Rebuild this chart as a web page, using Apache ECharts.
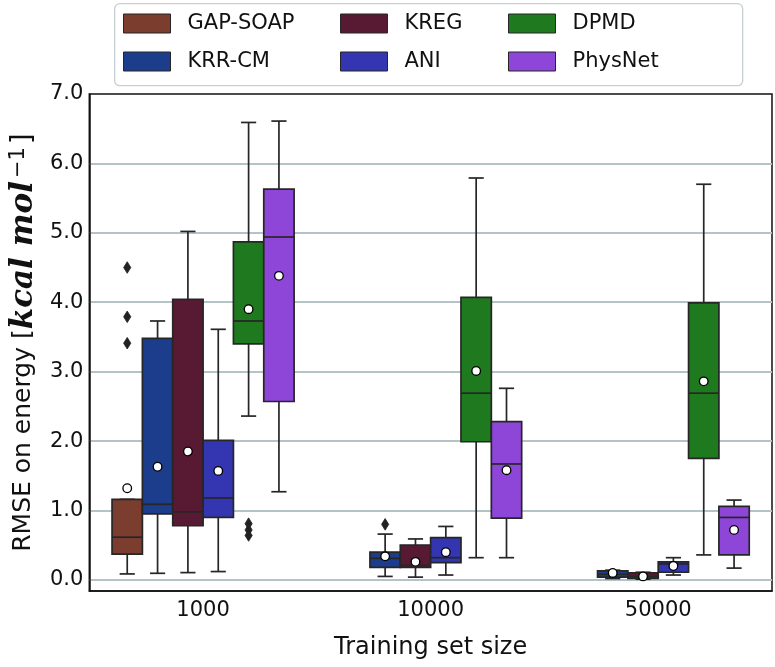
<!DOCTYPE html>
<html><head><meta charset="utf-8">
<script src="https://cdn.jsdelivr.net/npm/echarts@6/dist/echarts.min.js"></script>
<style>html,body{margin:0;padding:0;background:#fff}#chart{width:775px;height:667px}</style>
</head><body><div id="chart"></div>
<script>
// ---------------- data ----------------
const categories = ['1000', '10000', '50000'];
const models = ['GAP-SOAP', 'KRR-CM', 'KREG', 'ANI', 'DPMD', 'PhysNet'];
const colors = ['#7b3d2e', '#1c3c8c', '#581a32', '#3336b0', '#1f7a1f', '#8e46d8'];
const yTickValues = [0, 1, 2, 3, 4, 5, 6, 7];
const yGridValues = [0, 1, 2, 3, 4, 5, 6];

// [low whisker, Q1, median, Q3, high whisker] per training-set size (null = not available)
const gapSoapBox = [[0.086, 0.37, 0.615, 1.16, 1.16], null, null];
const krrCmBox   = [[0.095, 0.95, 1.09, 3.48, 3.73], [0.05, 0.18, 0.31, 0.40, 0.66], [0.02, 0.04, 0.08, 0.13, 0.14]];
const kregBox    = [[0.105, 0.78, 0.98, 4.04, 5.02], [0.04, 0.18, 0.21, 0.50, 0.59], [0.01, 0.02, 0.05, 0.10, 0.11]];
const aniBox     = [[0.12, 0.90, 1.18, 2.01, 3.61], [0.07, 0.25, 0.32, 0.61, 0.77], [0.07, 0.11, 0.23, 0.26, 0.32]];
const dpmdBox    = [[2.36, 3.40, 3.73, 4.87, 6.59], [0.32, 1.99, 2.69, 4.07, 5.79], [0.36, 1.75, 2.69, 3.99, 5.70]];
const physNetBox = [[1.27, 2.57, 4.94, 5.63, 6.61], [0.32, 0.89, 1.67, 2.28, 2.76], [0.17, 0.36, 0.90, 1.06, 1.15]];

// means (white circles)
const gapSoapMean = [1.32, null, null];
const krrCmMean   = [1.63, 0.34, 0.10];
const kregMean    = [1.85, 0.26, 0.05];
const aniMean     = [1.57, 0.40, 0.20];
const dpmdMean    = [3.90, 3.01, 2.86];
const physNetMean = [4.38, 1.58, 0.72];

// outliers (diamonds)
const gapSoapOutliers = [[4.50, 3.79, 3.41], [], []];
const krrCmOutliers   = [[], [0.80], []];
const kregOutliers    = [[], [], []];
const aniOutliers     = [[], [], []];
const dpmdOutliers    = [[0.81, 0.72, 0.64], [], []];
const physNetOutliers = [[], [], []];

const boxes = [gapSoapBox, krrCmBox, kregBox, aniBox, dpmdBox, physNetBox];
const means = [gapSoapMean, krrCmMean, kregMean, aniMean, dpmdMean, physNetMean];
const outliers = [gapSoapOutliers, krrCmOutliers, kregOutliers, aniOutliers, dpmdOutliers, physNetOutliers];

// ---------------- rendering ----------------
const EDGE = '#262626';
const FONT = 'DejaVu Sans';

function slotCenter(api, cat, k) {
  const band = api.size([1, 0])[0];
  const slot = band * 0.8 / models.length;
  const cx = api.coord([cat, 0])[0] + (k - (models.length - 1) / 2) * slot;
  return {cx: cx, slot: slot};
}

function boxRenderer(k) {
  return function (params, api) {
    const cat = api.value(0);
    const s = slotCenter(api, cat, k);
    const cx = s.cx, half = s.slot / 2, cap = s.slot / 4;
    const y = v => api.coord([cat, v])[1];
    const lo = y(api.value(1)), q1 = y(api.value(2)), med = y(api.value(3)),
          q3 = y(api.value(4)), hi = y(api.value(5)), mean = y(api.value(6));
    const st = {stroke: EDGE, lineWidth: 1.7};
    return {type: 'group', children: [
      {type: 'line', shape: {x1: cx, y1: q3, x2: cx, y2: hi}, style: st},
      {type: 'line', shape: {x1: cx, y1: q1, x2: cx, y2: lo}, style: st},
      {type: 'line', shape: {x1: cx - cap, y1: hi, x2: cx + cap, y2: hi}, style: st},
      {type: 'line', shape: {x1: cx - cap, y1: lo, x2: cx + cap, y2: lo}, style: st},
      {type: 'rect', shape: {x: cx - half, y: q3, width: 2 * half, height: q1 - q3},
        style: {fill: colors[k], stroke: EDGE, lineWidth: 1.7}},
      {type: 'line', shape: {x1: cx - half, y1: med, x2: cx + half, y2: med}, style: st},
      {type: 'circle', shape: {cx: cx, cy: mean, r: 4.3}, style: {fill: '#fff', stroke: '#000', lineWidth: 1.3}}
    ]};
  };
}

function outlierRenderer(k) {
  return function (params, api) {
    const cat = api.value(0);
    const s = slotCenter(api, cat, k);
    const p = api.coord([cat, api.value(1)]);
    const w = 3.6, h = 5.8;
    return {type: 'polygon', shape: {points: [[s.cx, p[1] - h], [s.cx + w, p[1]], [s.cx, p[1] + h], [s.cx - w, p[1]]]},
      style: {fill: '#222', stroke: '#222', lineWidth: 0.8}};
  };
}

const series = [];
models.forEach((name, k) => {
  const items = [];
  boxes[k].forEach((b, i) => { if (b) items.push([i].concat(b, [means[k][i]])); });
  series.push({
    type: 'custom', name: name, renderItem: boxRenderer(k),
    itemStyle: {color: colors[k]},
    encode: {x: 0, y: [1, 2, 3, 4, 5, 6]},
    data: items, z: 2
  });
  const outs = [];
  outliers[k].forEach((arr, i) => arr.forEach(v => outs.push([i, v])));
  if (outs.length) {
    series.push({
      type: 'custom', name: name, renderItem: outlierRenderer(k),
      itemStyle: {color: colors[k]},
      encode: {x: 0, y: 1}, data: outs, z: 3
    });
  }
});

// legend laid out as 3 columns x 2 rows (matplotlib column-major order)
const legendCols = [123, 340, 508];
const legendRows = [13, 51];
const legends = models.map((name, k) => ({
  data: [name],
  left: legendCols[Math.floor(k / 2)],
  top: legendRows[k % 2],
  padding: 0,
  itemWidth: 47, itemHeight: 19,
  icon: 'rect',
  itemStyle: {borderColor: EDGE, borderWidth: 1},
  textStyle: {fontSize: 21, fontFamily: FONT, color: '#111', padding: [0, 0, 0, 12]},
  selectedMode: false
}));

const chart = echarts.init(document.getElementById('chart'), null, {renderer: 'canvas'});
chart.setOption({
  animation: false,
  backgroundColor: '#fff',
  textStyle: {fontFamily: FONT},
  graphic: [{
    type: 'rect', left: 114, top: 3, z: -10,
    shape: {width: 628, height: 82, r: 5},
    style: {fill: '#fff', stroke: '#c6cfd1', lineWidth: 1.3}
  }],
  legend: legends,
  grid: {left: 87, right: 3, top: 94, bottom: 76, show: true, borderColor: '#111', borderWidth: 1.5, backgroundColor: 'transparent'},
  xAxis: {
    type: 'category', data: categories,
    axisLine: {show: true, onZero: false, lineStyle: {color: '#111', width: 1.5}},
    axisTick: {show: false},
    axisLabel: {fontSize: 21, fontFamily: FONT, color: '#111', margin: 9},
    splitLine: {show: false},
    name: 'Training set size', nameLocation: 'middle', nameGap: 45,
    nameTextStyle: {fontSize: 24, fontFamily: FONT, color: '#111'}
  },
  yAxis: {
    type: 'value', min: -0.16, max: 7,
    axisLine: {show: true, lineStyle: {color: '#111', width: 1.5}},
    axisTick: {show: false, customValues: yGridValues},
    axisLabel: {customValues: yTickValues, formatter: v => v.toFixed(1), fontSize: 21, fontFamily: FONT, color: '#111', margin: 6},
    splitLine: {show: true, lineStyle: {color: '#b4c4c6', width: 1.8}},
    name: '{a|RMSE on energy [}{b|kcal mol}{c|−1}{d|]}',
    nameLocation: 'middle', nameRotate: 90, nameGap: 50,
    nameTextStyle: {
      fontSize: 26, fontFamily: FONT, color: '#111',
      rich: {
        a: {fontSize: 25, fontFamily: FONT, color: '#111', lineHeight: 30},
        b: {fontSize: 31, fontFamily: 'DejaVu Serif', fontWeight: 'bold', fontStyle: 'italic', color: '#111', lineHeight: 30},
        c: {fontSize: 21, fontFamily: FONT, color: '#111', verticalAlign: 'top', lineHeight: 19, padding: [0, 3, 0, 3]},
        d: {fontSize: 28, fontFamily: FONT, color: '#111', lineHeight: 30}
      }
    }
  },
  series: series
});
</script>
</body></html>
